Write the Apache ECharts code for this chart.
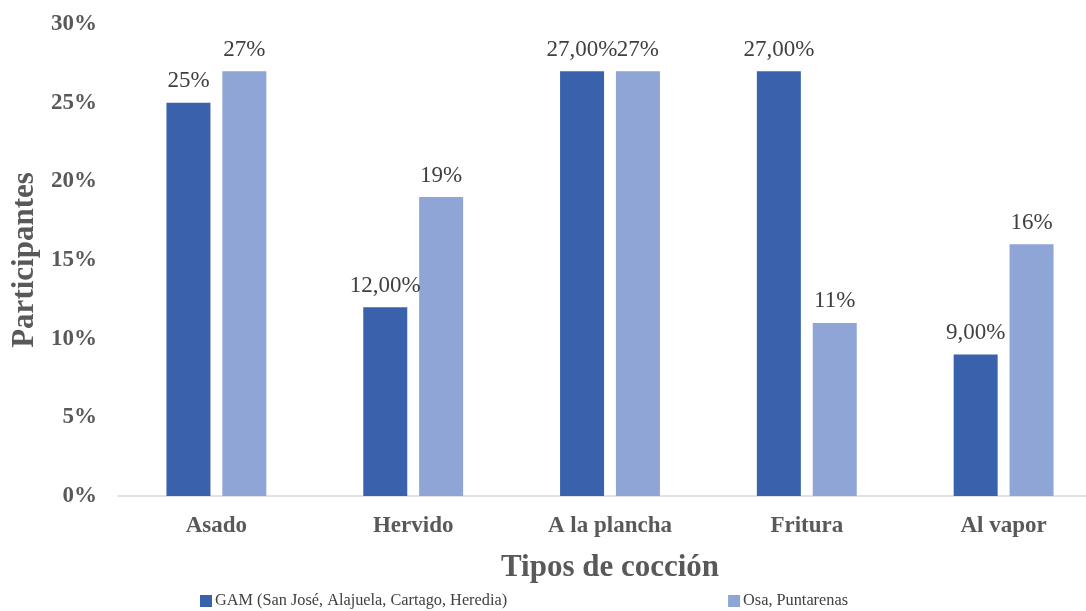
<!DOCTYPE html>
<html>
<head>
<meta charset="utf-8">
<script src="https://cdn.jsdelivr.net/npm/echarts@6/dist/echarts.min.js"></script>
<style>
  html, body { margin: 0; padding: 0; background: #fff; overflow: hidden; }
  /* canvas is a little wider than the window: the plot runs past the right edge */
  #chart { width: 1110px; height: 611px; }
</style>
</head>
<body>
<div id="chart"></div>
<script>
// Cooking methods by region, share of participants (%)
const categories = ['Asado', 'Hervido', 'A la plancha', 'Fritura', 'Al vapor'];
const seriesNames = ['GAM (San José, Alajuela, Cartago, Heredia)', 'Osa, Puntarenas'];
const gamValues = [25, 12, 27, 27, 9];
const osaValues = [27, 19, 27, 11, 16];
const gamLabels = ['25%', '12,00%', '27,00%', '27,00%', '9,00%'];
const osaLabels = ['27%', '19%', '27%', '11%', '16%'];
const yTicks = [0, 5, 10, 15, 20, 25, 30];

const FONT = '"Liberation Serif", "Times New Roman", serif';

const chart = echarts.init(document.getElementById('chart'));

function labelFor(texts) {
  return {
    show: true,
    position: 'top',
    distance: 10,
    fontFamily: FONT,
    fontSize: 23,
    color: '#404040',
    formatter: p => texts[p.dataIndex]
  };
}

chart.setOption({
  animation: false,
  backgroundColor: '#ffffff',
  grid: { left: 118, right: 8, top: 24, bottom: 115, containLabel: false },
  legend: {
    data: seriesNames,
    left: 195,
    top: 588,
    itemWidth: 12,
    itemHeight: 12,
    itemGap: 221,
    icon: 'rect',
    textStyle: { fontFamily: FONT, fontSize: 16.3, color: '#404040', padding: [0, 0, 0, -2] }
  },
  xAxis: {
    type: 'category',
    data: categories,
    name: 'Tipos de cocción',
    nameLocation: 'middle',
    nameGap: 56,
    nameTextStyle: { fontFamily: FONT, fontSize: 31, fontWeight: 'bold', color: '#595959' },
    axisLine: { lineStyle: { color: '#d9d9d9', width: 1.5 } },
    axisTick: { show: false },
    axisLabel: { fontFamily: FONT, fontSize: 23, fontWeight: 'bold', color: '#595959', margin: 19 }
  },
  yAxis: {
    type: 'value',
    min: 0,
    max: 30,
    interval: 5,
    name: 'Participantes',
    nameLocation: 'middle',
    nameGap: 74,
    nameTextStyle: { fontFamily: FONT, fontSize: 31, fontWeight: 'bold', color: '#595959' },
    axisLine: { show: false },
    axisTick: { show: false },
    splitLine: { show: false },
    axisLabel: {
      fontFamily: FONT, fontSize: 23, fontWeight: 'bold', color: '#595959', margin: 21,
      formatter: v => yTicks.includes(v) ? v + '%' : ''
    }
  },
  series: [
    {
      name: seriesNames[0],
      type: 'bar',
      data: gamValues,
      barWidth: 44,
      barGap: '27%',
      itemStyle: { color: '#3a62ac' },
      label: labelFor(gamLabels)
    },
    {
      name: seriesNames[1],
      type: 'bar',
      data: osaValues,
      barWidth: 44,
      itemStyle: { color: '#8fa5d6' },
      label: labelFor(osaLabels)
    }
  ]
});
</script>
</body>
</html>
